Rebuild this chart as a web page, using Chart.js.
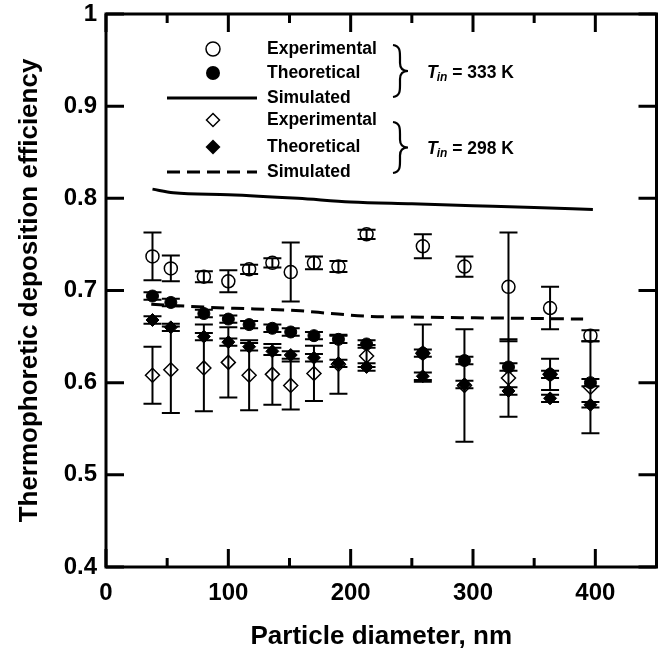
<!DOCTYPE html>
<html><head><meta charset="utf-8">
<script src="https://cdn.jsdelivr.net/npm/chart.js@4.4.1/dist/chart.umd.min.js"></script>
<style>html,body{margin:0;padding:0;background:#fff}</style>
</head><body>
<canvas id="c" width="665" height="653"></canvas>
<script>
// ---- data ----
const diameters = [38, 53, 80, 100, 117, 136, 151, 170, 190, 213, 259, 293, 329, 363, 396];
const exp333 = [0.737, 0.724, 0.715, 0.710, 0.723, 0.730, 0.720, 0.730, 0.726, 0.761, 0.748, 0.726, 0.704, 0.681, 0.651];
const exp333Err = [0.026, 0.014, 0.006, 0.012, 0.005, 0.005, 0.032, 0.007, 0.006, 0.005, 0.013, 0.011, 0.059, 0.023, 0.006];
const theo333 = [0.694, 0.687, 0.675, 0.669, 0.663, 0.659, 0.655, 0.651, 0.647, 0.642, 0.632, 0.624, 0.617, 0.609, 0.600];
const theo333Err = [0.004, 0.004, 0.004, 0.004, 0.004, 0.004, 0.004, 0.004, 0.004, 0.004, 0.004, 0.004, 0.004, 0.004, 0.004];
const exp298 = [0.608, 0.614, 0.616, 0.622, 0.608, 0.609, 0.597, 0.610, 0.620, 0.629, 0.632, 0.597, 0.605, 0.609, 0.595];
const exp298Err = [0.031, 0.047, 0.047, 0.038, 0.038, 0.033, 0.026, 0.030, 0.032, 0.012, 0.031, 0.061, 0.042, 0.017, 0.050];
const theo298 = [0.668, 0.660, 0.650, 0.644, 0.639, 0.634, 0.630, 0.627, 0.621, 0.617, 0.607, 0.598, 0.591, 0.583, 0.576];
const theo298Err = [0.004, 0.004, 0.004, 0.004, 0.004, 0.004, 0.004, 0.004, 0.004, 0.004, 0.004, 0.004, 0.004, 0.004, 0.003];
const sim333X = [38, 55, 100, 157, 200, 250, 300, 350, 398];
const sim333Y = [0.810, 0.806, 0.804, 0.800, 0.796, 0.794, 0.792, 0.790, 0.788];
const sim298X = [37, 80, 121, 159, 184, 215, 260, 330, 390];
const sim298Y = [0.685, 0.682, 0.680, 0.678, 0.675, 0.672, 0.671, 0.670, 0.669];
const xTicks = [0, 100, 200, 300, 400];
const xMinorTicks = [50, 150, 250, 350];
const yTicks = [0.4, 0.5, 0.6, 0.7, 0.8, 0.9, 1.0];
const legendLabels = ['Experimental', 'Theoretical', 'Simulated', 'Experimental', 'Theoretical', 'Simulated'];
const groupLabels = [['T', 'in', ' = 333 K'], ['T', 'in', ' = 298 K']];
const xTitle = 'Particle diameter, nm';
const yTitle = 'Thermophoretic deposition efficiency';

const FONT = '"Liberation Sans", Arial, sans-serif';
const pts = (xs, ys) => xs.map((x, i) => ({x: x, y: ys[i]}));

const datasets = [
  {label: 'Simulated 333', data: pts(sim333X, sim333Y), showLine: true, pointRadius: 0,
   borderColor: '#000', borderWidth: 3, cubicInterpolationMode: 'monotone', order: 5},
  {label: 'Simulated 298', data: pts(sim298X, sim298Y), showLine: true, pointRadius: 0,
   borderColor: '#000', borderWidth: 3, borderDash: [13, 7], cubicInterpolationMode: 'monotone', order: 6},
  {label: 'Experimental 333', data: pts(diameters, exp333), pointStyle: 'circle', pointRadius: 6.5,
   backgroundColor: 'rgba(0,0,0,0)', borderColor: '#000', borderWidth: 1.5, err: exp333Err, order: 3},
  {label: 'Experimental 298', data: pts(diameters, exp298), pointStyle: 'rectRot', pointRadius: 7,
   backgroundColor: 'rgba(0,0,0,0)', borderColor: '#000', borderWidth: 1.5, err: exp298Err, order: 4},
  {label: 'Theoretical 333', data: pts(diameters, theo333), pointStyle: 'circle', pointRadius: 6,
   backgroundColor: '#000', borderColor: '#000', borderWidth: 1, err: theo333Err, order: 1},
  {label: 'Theoretical 298', data: pts(diameters, theo298), pointStyle: 'rectRot', pointRadius: 6.5,
   backgroundColor: '#000', borderColor: '#000', borderWidth: 1, err: theo298Err, order: 2}
];

const errorBars = {
  id: 'errorBars',
  beforeDatasetsDraw(chart) {
    const ctx = chart.ctx, xs = chart.scales.x, ys = chart.scales.y;
    ctx.save();
    ctx.strokeStyle = '#000';
    ctx.lineWidth = 2;
    chart.data.datasets.forEach(ds => {
      if (!ds.err) return;
      ds.data.forEach((p, i) => {
        const px = xs.getPixelForValue(p.x);
        const y1 = ys.getPixelForValue(p.y + ds.err[i]);
        const y2 = ys.getPixelForValue(p.y - ds.err[i]);
        ctx.beginPath();
        ctx.moveTo(px, y1); ctx.lineTo(px, y2);
        ctx.moveTo(px - 9, y1); ctx.lineTo(px + 9, y1);
        ctx.moveTo(px - 9, y2); ctx.lineTo(px + 9, y2);
        ctx.stroke();
      });
    });
    ctx.restore();
  }
};

function brace(ctx, x, y1, y2) {
  const m = (y1 + y2) / 2, w = 7;
  ctx.beginPath();
  ctx.moveTo(x, y1);
  ctx.bezierCurveTo(x + w, y1 + 1, x + w, y1 + 6, x + w, y1 + 12);
  ctx.lineTo(x + w, m - 8);
  ctx.bezierCurveTo(x + w, m - 3, x + w + 3, m, x + 2 * w + 1, m);
  ctx.bezierCurveTo(x + w + 3, m, x + w, m + 3, x + w, m + 8);
  ctx.lineTo(x + w, y2 - 12);
  ctx.bezierCurveTo(x + w, y2 - 6, x + w, y2 - 1, x, y2);
  ctx.stroke();
}

const frameAndLegend = {
  id: 'frameAndLegend',
  afterDraw(chart) {
    const ctx = chart.ctx, xs = chart.scales.x, ys = chart.scales.y;
    const {left, right, top, bottom} = chart.chartArea;
    ctx.save();
    ctx.strokeStyle = '#000';
    ctx.fillStyle = '#000';
    // ticks (inward, mirrored)
    ctx.lineWidth = 3;
    ctx.beginPath();
    xTicks.concat(xMinorTicks).forEach(v => {
      const px = xs.getPixelForValue(v);
      const len = xTicks.includes(v) ? 18 : 9;
      ctx.moveTo(px, bottom); ctx.lineTo(px, bottom - len);
      ctx.moveTo(px, top); ctx.lineTo(px, top + len);
    });
    yTicks.forEach(v => {
      const py = ys.getPixelForValue(v);
      ctx.moveTo(left, py); ctx.lineTo(left + 18, py);
      ctx.moveTo(right, py); ctx.lineTo(right - 18, py);
    });
    ctx.stroke();
    ctx.lineWidth = 3;
    ctx.strokeRect(left, top, right - left, bottom - top);

    // legend
    const rows = [49, 73, 98, 120, 147, 172];
    const mx = 213, tx = 267;
    ctx.font = 'bold 17.5px ' + FONT;
    ctx.textBaseline = 'middle';
    ctx.textAlign = 'left';
    legendLabels.forEach((t, i) => ctx.fillText(t, tx, rows[i]));
    ctx.lineWidth = 1.5;
    ctx.beginPath(); ctx.arc(mx, rows[0], 7, 0, Math.PI * 2); ctx.stroke();
    ctx.beginPath(); ctx.arc(mx, rows[1], 7, 0, Math.PI * 2); ctx.fill();
    ctx.lineWidth = 3;
    ctx.beginPath(); ctx.moveTo(167, rows[2]); ctx.lineTo(257, rows[2]); ctx.stroke();
    ctx.lineWidth = 1.5;
    const dia = (y, r) => { ctx.beginPath(); ctx.moveTo(mx, y - r); ctx.lineTo(mx + r, y); ctx.lineTo(mx, y + r); ctx.lineTo(mx - r, y); ctx.closePath(); };
    dia(rows[3], 6.5); ctx.stroke();
    dia(rows[4], 7.5); ctx.fill();
    ctx.lineWidth = 3;
    ctx.setLineDash([13, 7]);
    ctx.beginPath(); ctx.moveTo(167, rows[5]); ctx.lineTo(257, rows[5]); ctx.stroke();
    ctx.setLineDash([]);
    ctx.lineWidth = 2.2;
    brace(ctx, 393, 45, 97);
    brace(ctx, 393, 122, 173);
    [73, 149].forEach((y, gi) => {
      const g = groupLabels[gi];
      let x = 427;
      ctx.font = 'italic bold 17.5px ' + FONT;
      ctx.fillText(g[0], x, y);
      x += ctx.measureText(g[0]).width;
      ctx.font = 'italic bold 12px ' + FONT;
      ctx.fillText(g[1], x - 1, y + 5);
      x += ctx.measureText(g[1]).width - 1;
      ctx.font = 'bold 17.5px ' + FONT;
      ctx.fillText(g[2], x, y);
    });
    ctx.restore();
  }
};

new Chart(document.getElementById('c'), {
  type: 'scatter',
  data: {datasets: datasets},
  plugins: [errorBars, frameAndLegend],
  options: {
    responsive: false,
    animation: false,
    layout: {padding: {top: 14, right: 4, left: 0, bottom: 0}},
    plugins: {legend: {display: false}, tooltip: {enabled: false}},
    scales: {
      x: {
        type: 'linear', min: 0, max: 450,
        grid: {display: false, drawTicks: false},
        border: {display: false},
        afterBuildTicks: s => { s.ticks = xTicks.map(v => ({value: v})); },
        afterFit: s => { s.height = 86; s.paddingLeft = 0; s.paddingRight = 0; },
        ticks: {color: '#000', padding: 12, maxRotation: 0, font: {family: FONT, size: 24, weight: 'bold'}},
        title: {display: true, text: xTitle, color: '#000', padding: {top: 0, bottom: 1},
                font: {family: FONT, size: 26, weight: 'bold'}}
      },
      y: {
        type: 'linear', min: 0.4, max: 1.0,
        grid: {display: false, drawTicks: false},
        border: {display: false},
        afterBuildTicks: s => { s.ticks = yTicks.map(v => ({value: v})); },
        afterFit: s => { s.width = 106; s.paddingTop = 0; s.paddingBottom = 0; },
        ticks: {color: '#000', padding: 9, font: {family: FONT, size: 24, weight: 'bold'},
                callback: v => (v === 1 ? '1' : v.toFixed(1))},
        title: {display: true, text: yTitle, color: '#000', padding: {top: 14, bottom: 0},
                font: {family: FONT, size: 26, weight: 'bold'}}
      }
    }
  }
});
</script>
</body></html>
